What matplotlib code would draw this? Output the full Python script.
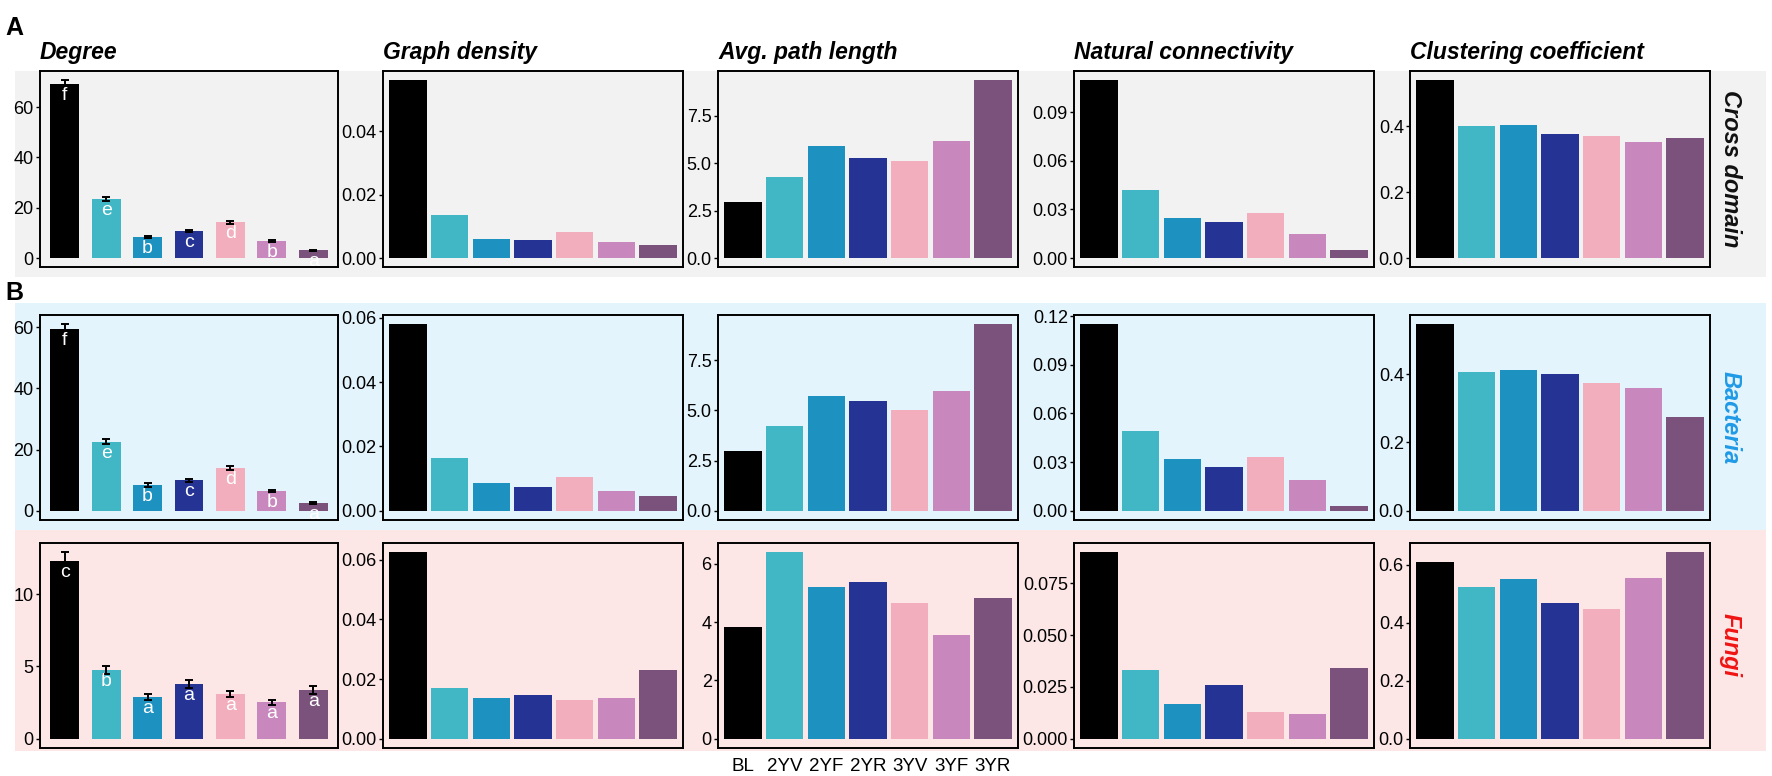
import numpy as np
import matplotlib
matplotlib.use('Agg')
import matplotlib.pyplot as plt
from matplotlib.patches import Rectangle

plt.rcParams['font.family'] = ['Liberation Sans', 'DejaVu Sans']

groups = ['BL', '2YV', '2YF', '2YR', '3YV', '3YF', '3YR']
colors = ['#000000', '#41b6c4', '#1d91c0', '#253494', '#f2aebc', '#c888be', '#7a527b']

metrics = ['Degree', 'Graph density', 'Avg. path length',
           'Natural connectivity', 'Clustering coefficient']

# cross domain network
cross_degree = [69.2, 23.4, 8.3, 10.7, 14.2, 6.6, 3.2]
cross_degree_se = [1.6, 0.8, 0.4, 0.4, 0.6, 0.4, 0.2]
cross_letters = ['f', 'e', 'b', 'c', 'd', 'b', 'a']
cross_density = [0.0563, 0.0136, 0.0060, 0.0058, 0.0082, 0.0050, 0.0042]
cross_path = [2.95, 4.3, 5.9, 5.3, 5.1, 6.2, 9.4]
cross_natconn = [0.110, 0.042, 0.025, 0.022, 0.028, 0.015, 0.005]
cross_clust = [0.540, 0.400, 0.402, 0.376, 0.371, 0.353, 0.365]

# bacteria network
bact_degree = [59.5, 22.5, 8.4, 10.0, 14.0, 6.5, 2.5]
bact_degree_se = [1.5, 0.8, 0.5, 0.5, 0.6, 0.4, 0.2]
bact_letters = ['f', 'e', 'b', 'c', 'd', 'b', 'a']
bact_density = [0.058, 0.0165, 0.0085, 0.0075, 0.0105, 0.0060, 0.0045]
bact_path = [3.0, 4.25, 5.7, 5.45, 5.0, 5.95, 9.3]
bact_natconn = [0.115, 0.049, 0.032, 0.027, 0.033, 0.019, 0.003]
bact_clust = [0.546, 0.407, 0.412, 0.400, 0.375, 0.358, 0.273]

# fungi network
fungi_degree = [12.3, 4.75, 2.9, 3.77, 3.1, 2.52, 3.38]
fungi_degree_se = [0.6, 0.3, 0.2, 0.28, 0.2, 0.18, 0.28]
fungi_letters = ['c', 'b', 'a', 'a', 'a', 'a', 'a']
fungi_density = [0.0625, 0.0170, 0.0138, 0.0145, 0.0130, 0.0135, 0.0230]
fungi_path = [3.82, 6.39, 5.20, 5.36, 4.66, 3.56, 4.83]
fungi_natconn = [0.090, 0.033, 0.0168, 0.026, 0.013, 0.012, 0.034]
fungi_clust = [0.610, 0.523, 0.550, 0.468, 0.447, 0.553, 0.643]

cross_ticks = [[0, 20, 40, 60], [0, 0.02, 0.04], [0, 2.5, 5, 7.5],
               [0, 0.03, 0.06, 0.09], [0, 0.2, 0.4]]
bact_ticks = [[0, 20, 40, 60], [0, 0.02, 0.04, 0.06], [0, 2.5, 5, 7.5],
              [0, 0.03, 0.06, 0.09, 0.12], [0, 0.2, 0.4]]
fungi_ticks = [[0, 5, 10], [0, 0.02, 0.04, 0.06], [0, 2, 4, 6],
               [0, 0.025, 0.05, 0.075], [0, 0.2, 0.4, 0.6]]
cross_fmt = ['%d', '%.2f', '%.1f', '%.2f', '%.1f']
bact_fmt = ['%d', '%.2f', '%.1f', '%.2f', '%.1f']
fungi_fmt = ['%d', '%.2f', '%d', '%.3f', '%.1f']

rows = [
    dict(name='Cross domain', color='#111111', band='#f2f2f2',
         degree=cross_degree, se=cross_degree_se, letters=cross_letters,
         others=[cross_density, cross_path, cross_natconn, cross_clust],
         ticks=cross_ticks, fmt=cross_fmt, top=71, bottom=267, band_y=(71, 277)),
    dict(name='Bacteria', color='#1f9ae6', band='#e3f4fc',
         degree=bact_degree, se=bact_degree_se, letters=bact_letters,
         others=[bact_density, bact_path, bact_natconn, bact_clust],
         ticks=bact_ticks, fmt=bact_fmt, top=315, bottom=520, band_y=(303, 530)),
    dict(name='Fungi', color='#f01414', band='#fde6e6',
         degree=fungi_degree, se=fungi_degree_se, letters=fungi_letters,
         others=[fungi_density, fungi_path, fungi_natconn, fungi_clust],
         ticks=fungi_ticks, fmt=fungi_fmt, top=543, bottom=748, band_y=(530, 751)),
]

W, H = 1772, 776
fig = plt.figure(figsize=(W / 100, H / 100), dpi=100)
panel_x = [(40, 338), (383, 683), (718, 1018), (1074, 1374), (1410, 1710)]

x = np.arange(len(groups))

for r, row in enumerate(rows):
    y0, y1 = row['band_y']
    fig.patches.append(Rectangle((15 / W, 1 - y1 / H), (1766 - 15) / W, (y1 - y0) / H,
                                 transform=fig.transFigure, facecolor=row['band'],
                                 edgecolor='none', zorder=-10))
    series = [row['degree']] + row['others']
    for c in range(5):
        xl, xr = panel_x[c]
        ax = fig.add_axes([xl / W, 1 - row['bottom'] / H, (xr - xl) / W,
                           (row['bottom'] - row['top']) / H])
        ax.set_facecolor('none')
        vals = np.array(series[c])
        if c == 0:
            se = np.array(row['se'])
            ax.bar(x, vals, width=0.7, color=colors)
            ax.errorbar(x, vals, yerr=se, fmt='none', ecolor='black',
                        elinewidth=1.4, capsize=3, capthick=1.4)
            top = (vals + se).max()
            for xi, v, lab in zip(x, vals, row['letters']):
                ax.annotate(lab, (xi, v), xytext=(0, -2), textcoords='offset points',
                            ha='center', va='top', color='white', fontsize=14)
        else:
            ax.bar(x, vals, width=0.9, color=colors)
            top = vals.max()
        ax.set_xlim(-0.6, len(groups) - 0.4)
        ax.set_ylim(-0.05 * top, 1.05 * top)
        ticks = row['ticks'][c]
        ax.set_yticks(ticks)
        ax.set_yticklabels([row['fmt'][c] % t for t in ticks])
        ax.tick_params(axis='y', length=3, width=1, pad=1.5, labelsize=13,
                       colors='black')
        if r == 2 and c == 2:
            ax.set_xticks(x)
            ax.set_xticklabels(groups)
            ax.tick_params(axis='x', length=0, pad=7, labelsize=13.5)
        else:
            ax.set_xticks([])
        for s in ax.spines.values():
            s.set_linewidth(1.4)
            s.set_color('black')
        if r == 0:
            ax.text(0, 1.035, metrics[c], transform=ax.transAxes, ha='left',
                    va='bottom', fontsize=16.5, fontweight='bold', style='italic')
    fig.text(1730 / W, 1 - (row['top'] + row['bottom']) / 2 / H, row['name'],
             rotation=-90, ha='center', va='center', fontsize=17,
             fontweight='bold', style='italic', color=row['color'])

fig.text(5 / W, 1 - 35 / H, 'A', fontsize=18, fontweight='bold', ha='left', va='baseline')
fig.text(5 / W, 1 - 300 / H, 'B', fontsize=18, fontweight='bold', ha='left', va='baseline')

fig.savefig('out.png', dpi=100)
